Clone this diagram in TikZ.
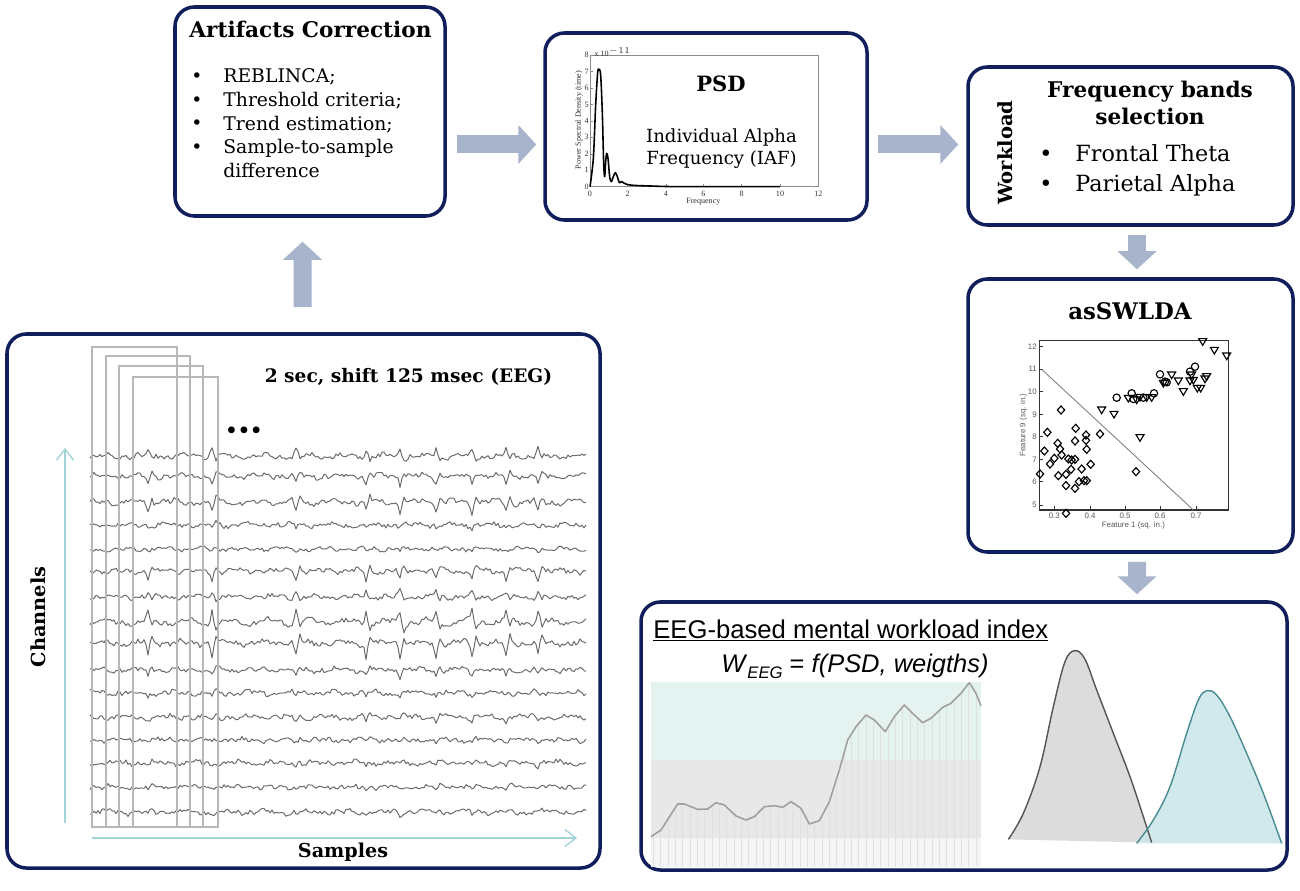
\documentclass[tikz,border=0pt]{standalone}
\usepackage{fontspec}
\setmainfont{DejaVu Serif}
\newfontfamily\sansf{Liberation Sans}
\newfontfamily\lserif{Liberation Serif}
\usetikzlibrary{arrows.meta,fit}
\definecolor{navy}{RGB}{16,30,92}
\definecolor{barrowc}{RGB}{168,180,204}
\definecolor{axc}{RGB}{160,212,216}
\definecolor{tracec}{RGB}{105,105,105}
\definecolor{winc}{RGB}{184,184,184}
\definecolor{bandteal}{RGB}{229,243,240}
\definecolor{bandgray}{RGB}{232,232,232}
\definecolor{bandlow}{RGB}{245,245,245}
\definecolor{wline}{RGB}{160,160,160}
\definecolor{dgray}{RGB}{220,220,220}
\definecolor{dgrayline}{RGB}{85,85,85}
\definecolor{dteal}{RGB}{205,231,234}
\definecolor{dtealline}{RGB}{72,140,146}
\begin{document}
\begin{tikzpicture}[x=0.02cm,y=-0.02cm,
 box/.style={draw=navy,line width=2pt,rounded corners=11pt,inner sep=0pt,fill=white},
 barrow/.style={draw=barrowc,line width=0.36cm,-{Triangle[length=0.36cm,width=0.76cm]}},
 axarrow/.style={draw=axc,line width=0.8pt,-{Straight Barb[length=0.22cm,width=0.34cm]}},
 trace/.style={draw=tracec,line width=0.55pt,line join=round},
 win/.style={draw=winc,line width=1.4pt},
 txt/.style={inner sep=0pt},
 psdlab/.style={font=\lserif\fontsize{4.6}{5}\selectfont,inner sep=0.5pt,text=black!80},
 sclab/.style={font=\sansf\fontsize{4.5}{5}\selectfont,inner sep=0.5pt,text=black!65},
 mk/.style={draw=black,line width=0.65pt},
 declare function={sp(\t)=max(0,1-abs(\t-148)/3)+max(0,1-abs(\t-212)/3)+max(0,1-abs(\t-296)/3)+max(0,1-abs(\t-366)/3)+max(0,1-abs(\t-400)/3)+max(0,1-abs(\t-436)/3)+max(0,1-abs(\t-472)/3)+max(0,1-abs(\t-506)/3)+max(0,1-abs(\t-538)/3);}
]
\path[use as bounding box,fill=white] (0,0) rectangle (1300,891);

% ---------- boxes ----------
\node[box,fit={(175,7)(445,216)}] (art) {};
\node[box,fit={(545,33)(867,220)}] (psd) {};
\node[box,fit={(968,67)(1293,225)}] (freq) {};
\node[box,fit={(968,279)(1293,552)}] (asw) {};
\node[box,fit={(7,334)(600,868)}] (eeg) {};
\node[box,fit={(641,602)(1287,870)}] (wl) {};

% ---------- block arrows ----------
\draw[barrow] ([shift={(-1,-25)}]eeg.north) -- ([shift={(-7.5,24)}]art.south);
\draw[barrow] ([shift={(10,33)}]art.east) -- ([shift={(-7,18)}]psd.west);
\draw[barrow] ([shift={(9,18)}]psd.east) -- ([shift={(-8,-1.5)}]freq.west);
\draw[barrow] ([shift={(6.5,8)}]freq.south) -- ([shift={(6.5,-8)}]asw.north);
\draw[barrow] ([shift={(6.5,8)}]asw.south) -- ([shift={(173,-6)}]wl.north);

% ---------- Artifacts Correction ----------
\node[txt,anchor=base,font=\bfseries\fontsize{12.3}{15}\selectfont] (artT) at (310.5,38) {Artifacts Correction};
\foreach \yy [count=\k] in {83,106.5,130,153.5}
  \node[txt,anchor=base,font=\fontsize{10.7}{13.4}\selectfont] (artb\k) at (197,\yy) {•};
\node[txt,anchor=base west,font=\fontsize{10.7}{13.4}\selectfont] (artL) at (223,83)
  {\begin{tabular}[t]{@{}l@{}}REBLINCA;\\Threshold criteria;\\Trend estimation;\\Sample-to-sample\\difference\end{tabular}};

% ---------- PSD ----------
\begin{scope}[shift={(540,30)},x=0.006667cm,y=-0.006667cm]
  \draw[black!45,line width=0.3pt] (150,75) rectangle (835,470);
  \foreach \v/\xx [count=\k] in {0/150,2/263,4/378,6/490,8/605,10/720,12/835}{
    \draw[black!45,line width=0.3pt] (\xx,470) -- (\xx,462);
    \node[psdlab] (px\k) at (\xx,492) {\v};}
  \foreach \v/\yy [count=\k] in {0/470,1/421,2/372,3/322,4/273,5/224,6/174,7/125,8/75}{
    \draw[black!45,line width=0.3pt] (150,\yy) -- (158,\yy);
    \node[psdlab,anchor=east] (py\k) at (150,\yy) {\v};}
  \node[psdlab,anchor=west] (pexp) at (160,66) {x 10$^{\scriptscriptstyle -11}$};
  \node[psdlab] (pxl) at (490,515) {Frequency};
  \node[psdlab,rotate=90] (pyl) at (117,270) {Power Spectral Density (time)};
  \draw[black,line width=0.9pt,line join=round] plot[smooth,tension=0.5] coordinates {(150,470) (160,385) (167,225) (173,128) (177,118) (182,135) (187,250) (191,400) (194,440) (197,395) (200,370) (204,385) (209,440) (214,455) (220,440) (226,428) (232,440) (238,458) (244,455) (250,458) (260,463) (280,466) (330,468) (420,470) (720,470)};
\end{scope}
\node[txt,anchor=base,font=\bfseries\fontsize{12}{14}\selectfont] (psdT) at (721,92) {PSD};
\node[txt,anchor=base,font=\fontsize{10.3}{12}\selectfont] (psdL) at (721.5,143)
  {\begin{tabular}[t]{@{}c@{}}Individual Alpha\\Frequency (IAF)\end{tabular}};

% ---------- Frequency bands ----------
\node[txt,rotate=90,font=\bfseries\fontsize{11.1}{13}\selectfont] (wkl) at (1005,152.5) {Workload};
\node[txt,anchor=base,font=\bfseries\fontsize{12.3}{15.3}\selectfont] (frT) at (1150,98)
  {\begin{tabular}[t]{@{}c@{}}Frequency bands\\selection\end{tabular}};
\foreach \yy [count=\k] in {162,192}
  \node[txt,anchor=base,font=\fontsize{12.7}{17}\selectfont] (frb\k) at (1046,\yy) {•};
\node[txt,anchor=base west,font=\fontsize{12.7}{17}\selectfont] (frL) at (1075,162)
  {\begin{tabular}[t]{@{}l@{}}Frontal Theta\\Parietal Alpha\end{tabular}};

% ---------- asSWLDA ----------
\node[txt,anchor=base,font=\bfseries\fontsize{13}{15}\selectfont] (aswT) at (1130,320) {asSWLDA};
\begin{scope}[shift={(960,275)},x=0.006667cm,y=-0.006667cm]
  \draw[black!80,line width=0.6pt] (238,197) rectangle (805,705);
  \foreach \v/\yy [count=\k] in {12/215,11/282,10/350,9/418,8/485,7/553,6/620,5/690}{
    \draw[black!80,line width=0.4pt] (238,\yy) -- (250,\yy);
    \node[sclab,anchor=east] (sy\k) at (234,\yy) {\v};}
  \foreach \v/\xx [count=\k] in {0.3/283,0.4/390,0.5/495,0.6/600,0.7/708}{
    \draw[black!80,line width=0.4pt] (\xx,705) -- (\xx,693);
    \node[sclab,anchor=north] (sx\k) at (\xx,710) {\v};}
  \node[sclab] (sxl) at (520,752) {Feature 1 (sq. in.)};
  \node[sclab,rotate=90] (syl) at (190,450) {Feature 9 (sq. in.)};
  \draw[black!50,line width=0.5pt] (245,283) -- (700,705);
  \foreach \a/\b in {240/597,253/528,262/472,270/567,283/550,293/505,295/602,300/522,303/405,305/540,318/632,318/598,318/715,325/552,335/555,333/583,345/553,345/498,347/460,345/640,357/620,365/582,372/617,378/480,380/617,380/523,378/496,392/568,420/477,528/590}
    \draw[mk] (\a,\b) +(0,-12) -- +(11,0) -- +(0,12) -- +(-11,0) -- cycle;
  \foreach \a/\b in {425/405,462/418,540/488,575/368,540/367,635/300,655/318,670/350,690/318,700/316,712/340,722/340,735/312,740/305,728/200,763/226,800/243,610/325,560/368,530/375,695/300,505/370}
    \draw[mk] (\a,\b) +(-12,-9) -- +(12,-9) -- +(0,11) -- cycle;
  \foreach \a/\b in {470/368,515/355,520/372,550/368,582/355,600/298,615/320,705/275,690/290,620/322}
    \draw[mk] (\a,\b) circle (11);
\end{scope}

% ---------- EEG window ----------
\pgfmathsetseed{7}
\foreach \yy/\na/\sa/\wa [count=\i] in {456/2.0/-7/1.5,476/2.0/8/1.5,502/2.3/10/2,525/2.0/3/1.2,549/1.6/2/1,571/2.0/9/1.5,597/1.9/-6/1.2,622/2.3/-12/2.5,643/2.2/14/2,670/2.0/6/1.5,693/2.0/3/1.5,717/2.1/4/1.5,740/1.8/2/1,763/2.1/2/1.5,787/1.8/2/1,812/2.1/2/1.5}
  \draw[trace] plot[domain=90:586,samples=249] (\x,{\yy+\na*rand+\wa*sin(\x*9+\i*47)+0.9*sin(\x*25+\i*53)+\sa*(sp(\x)-0.5*sp(\x-4))});
\draw[win] (92,347) rectangle (177,827);
\draw[win] (106,356) rectangle (190,827);
\draw[win] (119,366) rectangle (203,827);
\draw[win] (133,377) rectangle (218,827);
\coordinate (chb) at (65,823);
\coordinate (cht) at (65,448);
\coordinate (sml) at (92,838);
\coordinate (smr) at (577,838);
\draw[axarrow] (chb) -- (cht);
\draw[axarrow] (sml) -- (smr);
\node[txt,anchor=base,font=\bfseries\fontsize{10.6}{13}\selectfont] (winT) at (408.5,382) {2 sec, shift 125 msec (EEG)};
\node[txt,font=\bfseries\fontsize{11}{13}\selectfont] (dots) at (244,432) {•••};
\node[txt,anchor=base,font=\bfseries\fontsize{10.9}{13}\selectfont] (smp) at (343,857) {Samples};
\node[txt,rotate=90,font=\bfseries\fontsize{11}{13}\selectfont] (chn) at (38,617) {Channels};

% ---------- workload index ----------
\begin{scope}[shift={(636,600)},x=0.006667cm,y=-0.006667cm]
  \fill[bandteal] (45,245) rectangle (1035,480);
  \fill[bandgray] (45,480) rectangle (1035,715);
  \fill[bandlow] (45,715) rectangle (1035,800);
  \begin{scope}
    \clip plot coordinates {(45,710) (75,690) (125,612) (145,612) (185,628) (215,627) (240,608) (265,615) (300,648) (330,660) (355,650) (385,620) (415,617) (440,622) (465,605) (495,625) (520,672) (550,662) (580,605) (610,510) (635,420) (660,380) (690,345) (715,360) (748,395) (775,350) (805,315) (835,345) (860,368) (885,355) (920,322) (945,310) (975,280) (1000,248) (1020,280) (1035,318)} -- (1035,800) -- (45,800) -- cycle;
    \foreach \s in {52,74,...,1030} \draw[black!12,line width=0.45pt] (\s,240) -- (\s,800);
  \end{scope}
  \draw[wline,line width=0.9pt,line join=round] plot coordinates {(45,710) (75,690) (125,612) (145,612) (185,628) (215,627) (240,608) (265,615) (300,648) (330,660) (355,650) (385,620) (415,617) (440,622) (465,605) (495,625) (520,672) (550,662) (580,605) (610,510) (635,420) (660,380) (690,345) (715,360) (748,395) (775,350) (805,315) (835,345) (860,368) (885,355) (920,322) (945,310) (975,280) (1000,248) (1020,280) (1035,318)};
\end{scope}
\begin{scope}[shift={(990,600)},x=0.006667cm,y=-0.006667cm]
  \fill[dgray] plot[smooth,tension=0.6] coordinates {(55,718) (100,640) (150,500) (190,320) (225,185) (255,152) (285,178) (320,270) (370,400) (420,530) (460,650) (485,728)} -- cycle;
  \fill[dteal,opacity=0.9] plot[smooth,tension=0.6] coordinates {(440,730) (490,660) (540,560) (590,400) (625,300) (650,272) (680,285) (720,350) (770,460) (820,580) (875,730)} -- cycle;
  \draw[dgrayline,line width=0.8pt] plot[smooth,tension=0.6] coordinates {(55,718) (100,640) (150,500) (190,320) (225,185) (255,152) (285,178) (320,270) (370,400) (420,530) (460,650) (485,728)};
  \draw[dtealline,line width=0.8pt] plot[smooth,tension=0.6] coordinates {(440,730) (490,660) (540,560) (590,400) (625,300) (650,272) (680,285) (720,350) (770,460) (820,580) (875,730)};
\end{scope}
\node[txt,anchor=base west,font=\sansf\fontsize{14.6}{17}\selectfont] (wlT) at (653,638) {\underline{EEG-based mental workload index}};
\node[txt,anchor=base west,font=\sansf\fontsize{14.5}{17}\selectfont] (wlF) at (721,672)
  {\textit{W}\raisebox{-0.25em}{\fontsize{9.5}{10}\selectfont\itshape EEG} = \textit{f(PSD, weigths)}};
\end{tikzpicture}
\end{document}
